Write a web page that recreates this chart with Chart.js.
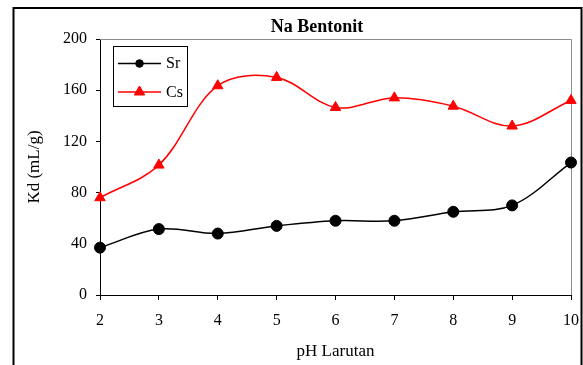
<!DOCTYPE html>
<html>
<head>
<meta charset="utf-8">
<script src="https://cdn.jsdelivr.net/npm/chart.js@4.4.1/dist/chart.umd.min.js"></script>
<style>
  html, body { margin: 0; padding: 0; background: #ffffff; }
  canvas { display: block; }
</style>
</head>
<body>
<canvas id="c" width="583" height="365"></canvas>
<script>
// Kd of Sr and Cs on Na bentonite versus solution pH
const phValues = [2, 3, 4, 5, 6, 7, 8, 9, 10];
const srKd = [37, 51.5, 48, 54, 58, 58, 65, 70, 103.5];
const csKd = [76, 101.5, 163.5, 170, 146.5, 154, 147.5, 132, 152];
const yTicks = [0, 40, 80, 120, 160, 200];
const seriesNames = ['Sr', 'Cs'];
const chartTitle = 'Na Bentonit';
const xTitle = 'pH Larutan';
const yTitle = 'Kd (mL/g)';

const serif = "'Liberation Serif', 'Times New Roman', serif";

const toPoints = (ys) => phValues.map((x, i) => ({ x, y: ys[i] }));

// frame, plot-area outline, title and the boxed legend
const decorations = {
  id: 'decorations',
  beforeDraw(chart) {
    const ctx = chart.ctx;
    ctx.save();
    ctx.fillStyle = '#ffffff';
    ctx.fillRect(0, 0, chart.width, chart.height);
    ctx.restore();
  },
  beforeDatasetsDraw(chart) {
    const { ctx, chartArea: a } = chart;
    ctx.save();
    ctx.strokeStyle = '#8c8c8c';
    ctx.lineWidth = 1;
    ctx.beginPath();
    ctx.moveTo(a.left, a.top + 0.5);
    ctx.lineTo(a.right + 0.5, a.top + 0.5);
    ctx.lineTo(a.right + 0.5, a.bottom);
    ctx.stroke();
    ctx.restore();
  },
  afterDraw(chart) {
    const ctx = chart.ctx;
    ctx.save();

    // outer frame
    ctx.strokeStyle = '#000000';
    ctx.lineWidth = 2;
    ctx.strokeRect(13.5, 8, 568, 420);

    // title
    ctx.fillStyle = '#000000';
    ctx.font = 'bold 18px ' + serif;
    ctx.textAlign = 'center';
    ctx.textBaseline = 'middle';
    ctx.fillText(chartTitle, 317, 27);

    // legend box
    const bx = 113.5, by = 46.5, bw = 74, bh = 60;
    ctx.fillStyle = '#ffffff';
    ctx.fillRect(bx, by, bw, bh);
    ctx.strokeStyle = '#000000';
    ctx.lineWidth = 1;
    ctx.strokeRect(bx, by, bw, bh);

    const rows = [63.5, 92];
    chart.data.datasets.forEach((ds, i) => {
      const y = rows[i];
      ctx.strokeStyle = ds.borderColor;
      ctx.lineWidth = ds.borderWidth;
      ctx.beginPath();
      ctx.moveTo(118, y);
      ctx.lineTo(161, y);
      ctx.stroke();

      ctx.fillStyle = ds.pointBackgroundColor;
      ctx.strokeStyle = ds.pointBorderColor;
      ctx.lineWidth = 1;
      Chart.helpers.drawPoint(ctx, {
        pointStyle: ds.pointStyle,
        radius: ds.legendRadius,
        borderWidth: 1,
        rotation: 0
      }, 139.5, y);

      ctx.fillStyle = '#000000';
      ctx.font = '16px ' + serif;
      ctx.textAlign = 'left';
      ctx.textBaseline = 'middle';
      ctx.fillText(ds.label, 166, y + 0.5);
    });
    ctx.restore();
  }
};

new Chart(document.getElementById('c'), {
  type: 'line',
  data: {
    datasets: [
      {
        label: seriesNames[0],
        data: toPoints(srKd),
        borderColor: '#000000',
        backgroundColor: '#000000',
        borderWidth: 1.5,
        pointStyle: 'circle',
        pointRadius: 5.5,
        pointBorderWidth: 1,
        pointBackgroundColor: '#000000',
        pointBorderColor: '#000000',
        legendRadius: 3.8,
        tension: 0.35,
        clip: false,
        fill: false
      },
      {
        label: seriesNames[1],
        data: toPoints(csKd),
        borderColor: '#ff0000',
        backgroundColor: '#ff0000',
        borderWidth: 1.5,
        pointStyle: 'triangle',
        pointRadius: 6,
        pointBorderWidth: 1,
        pointBackgroundColor: '#ff0000',
        pointBorderColor: '#ff0000',
        legendRadius: 6,
        tension: 0.35,
        clip: false,
        fill: false
      }
    ]
  },
  options: {
    responsive: false,
    animation: false,
    devicePixelRatio: 1,
    layout: { padding: { top: 39, right: 12, left: 0, bottom: 0 } },
    plugins: {
      legend: { display: false },
      title: { display: false },
      tooltip: { enabled: false }
    },
    scales: {
      x: {
        type: 'linear',
        min: 2,
        max: 10,
        afterBuildTicks: (s) => { s.ticks = phValues.map(v => ({ value: v })); },
        afterFit: (s) => { s.height = 70; s.paddingLeft = 0; s.paddingRight = 0; },
        grid: { display: true, drawOnChartArea: false, drawTicks: true, tickLength: 5, color: '#000000', lineWidth: 1 },
        border: { display: true, color: '#000000', width: 1 },
        ticks: { color: '#000000', font: { family: serif, size: 16 }, padding: 11, maxRotation: 0 },
        title: { display: true, text: xTitle, color: '#000000', font: { family: serif, size: 17 }, padding: { top: 0, bottom: 3 } }
      },
      y: {
        type: 'linear',
        min: 0,
        max: 200,
        afterBuildTicks: (s) => { s.ticks = yTicks.map(v => ({ value: v })); },
        afterFit: (s) => { s.width = 100; s.paddingTop = 0; s.paddingBottom = 0; },
        grid: { display: true, drawOnChartArea: false, drawTicks: true, tickLength: 4, color: '#000000', lineWidth: 1 },
        border: { display: true, color: '#000000', width: 1 },
        ticks: { color: '#000000', font: { family: serif, size: 16 }, padding: 9 },
        title: { display: true, text: yTitle, color: '#000000', font: { family: serif, size: 17 }, padding: { top: 24, bottom: 0 } }
      }
    }
  },
  plugins: [decorations]
});
</script>
</body>
</html>
